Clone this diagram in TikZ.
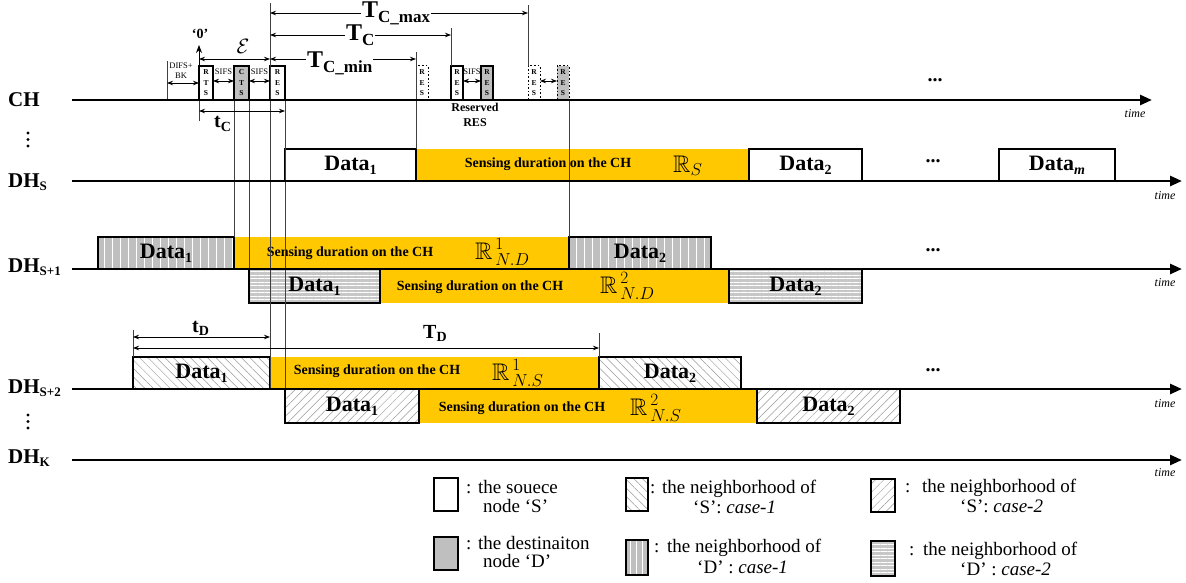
\documentclass[tikz,border=0pt]{standalone}
\usepackage{amssymb}
\usepackage{fontspec}
\setmainfont{Liberation Serif}
\usetikzlibrary{arrows.meta,patterns.meta}
\definecolor{sensey}{RGB}{255,200,0}
\newcommand\fsz[1]{\fontsize{#1}{#1}\selectfont}
\newcommand\lsb[2]{\raisebox{-0.18em}{\fontsize{#1}{#1}\selectfont #2}}
\begin{document}
\begin{tikzpicture}[x=1pt,y=-1pt,
  tline/.style={line width=2.6pt,-{Triangle[length=12pt,width=10pt]}},
  rowlab/.style={anchor=base west,inner sep=0,font=\fsz{21}\bfseries},
  timelab/.style={inner sep=0,font=\fsz{12}\itshape},
  dbox/.style={draw,line width=2.4pt,inner sep=0,outer sep=0,font=\fsz{22}\bfseries},
  ybox/.style={fill=sensey,inner sep=0,outer sep=0},
  stext/.style={inner sep=0,font=\fsz{14}\bfseries},
  rsym/.style={inner sep=0,anchor=base west,font=\fsz{24}},
  vline/.style={line width=0.6pt,black!75},
  dim/.style={line width=0.8pt,{Stealth[length=6pt,width=4.5pt]}-{Stealth[length=6pt,width=4.5pt]}},
  chbox/.style={draw,line width=1.6pt,inner sep=0,outer sep=0,minimum height=34,align=center,font=\fontsize{7.5}{10.5}\selectfont\bfseries,anchor=south west},
  dotbox/.style={chbox,dotted,line width=1pt},
  small/.style={inner sep=0,font=\fsz{8.5}},
  biglab/.style={inner sep=1pt,anchor=base west,fill=white,font=\fsz{24}\bfseries},
  midlab/.style={inner sep=0,anchor=base west,font=\fsz{20}\bfseries},
  legt/.style={inner sep=0,anchor=base west,font=\fsz{19}},
  dots/.style={inner sep=0,font=\fsz{20}\bfseries},
  patS1/.style={preaction={fill=white},pattern={Lines[angle=-45,distance=6pt,line width=0.5pt]},pattern color=black!40},
  patS2/.style={preaction={fill=white},pattern={Lines[angle=45,distance=6pt,line width=0.5pt]},pattern color=black!40},
  patD1/.style={preaction={fill=black!25},pattern={Lines[angle=90,distance=8pt,line width=0.9pt]},pattern color=white},
  patD2/.style={preaction={fill=black!22},pattern={Lines[angle=0,distance=3.5pt,line width=0.9pt]},pattern color=white},
]
\useasboundingbox (0,0) rectangle (1186,583);
\fill[white] (0,0) rectangle (1186,583);

% ---------- sensing (yellow) regions ----------
\node[ybox,minimum width=333,minimum height=32,anchor=south west] (ys) at (416,181) {};
\node[ybox,minimum width=335,minimum height=32,anchor=south west] (yd1) at (234,269) {};
\node[ybox,minimum width=349,minimum height=34,anchor=north west] (yd2) at (380,269) {};
\node[ybox,minimum width=329,minimum height=32,anchor=south west] (yn1) at (270,389) {};
\node[ybox,minimum width=338,minimum height=34,anchor=north west] (yn2) at (419,389) {};

% ---------- data boxes ----------
\node[dbox,minimum width=131,minimum height=32,anchor=south west] (sd1) at (285,181) {Data\lsb{14}{1}};
\node[dbox,minimum width=113,minimum height=32,anchor=south west] (sd2) at (749,181) {Data\lsb{14}{2}};
\node[dbox,minimum width=116,minimum height=32,anchor=south west] (sdm) at (999,181) {Data\lsb{14}{\itshape m}};

\node[dbox,patD1,minimum width=136,minimum height=32,anchor=south west] (ad1) at (98,269) {Data\lsb{14}{1}};
\node[dbox,patD1,minimum width=142,minimum height=32,anchor=south west] (ad2) at (569,269) {Data\lsb{14}{2}};
\node[dbox,patD2,minimum width=131,minimum height=34,anchor=north west] (bd1) at (249,269) {Data\lsb{14}{1}};
\node[dbox,patD2,minimum width=133,minimum height=34,anchor=north west] (bd2) at (729,269) {Data\lsb{14}{2}};

\node[dbox,patS1,minimum width=137,minimum height=32,anchor=south west] (cd1) at (133,389) {Data\lsb{14}{1}};
\node[dbox,patS1,minimum width=142,minimum height=32,anchor=south west] (cd2) at (599,389) {Data\lsb{14}{2}};
\node[dbox,patS2,minimum width=134,minimum height=34,anchor=north west] (ed1) at (285,389) {Data\lsb{14}{1}};
\node[dbox,patS2,minimum width=143,minimum height=34,anchor=north west] (ed2) at (757,389) {Data\lsb{14}{2}};

% ---------- sensing texts ----------
\node[stext] (t1) at (548,164) {Sensing duration on the CH};
\node[rsym] (r1) at (673,172) {$\mathbb{R}_{S}$};
\node[stext] (t2) at (350,253) {Sensing duration on the CH};
\node[rsym] (r2) at (475,259) {$\mathbb{R}^{\,1}_{\,N.D}$};
\node[stext] (t3) at (480,287) {Sensing duration on the CH};
\node[rsym] (r3) at (600,293) {$\mathbb{R}^{\,2}_{\,N.D}$};
\node[stext] (t4) at (377,371) {Sensing duration on the CH};
\node[rsym] (r4) at (492,380) {$\mathbb{R}^{\,1}_{\,N.S}$};
\node[stext] (t5) at (522,408) {Sensing duration on the CH};
\node[rsym] (r5) at (630,415) {$\mathbb{R}^{\,2}_{\,N.S}$};

% ---------- CH control frames ----------
\node[chbox,minimum width=14] (rts) at (199,100) {R\\T\\S};
\node[chbox,minimum width=15,fill=black!25] (cts) at (234,100) {C\\T\\S};
\node[chbox,minimum width=15] (res) at (270,100) {R\\E\\S};
\node[dotbox,minimum width=12] (res1) at (416,100) {R\\E\\S};
\node[chbox,minimum width=12] (res2) at (451,100) {R\\E\\S};
\node[chbox,minimum width=12,fill=black!25] (res3) at (481,100) {R\\E\\S};
\node[dotbox,minimum width=12] (res4) at (528,100) {R\\E\\S};
\node[dotbox,minimum width=12,fill=black!25] (res5) at (557,100) {R\\E\\S};

% ---------- thin guide lines ----------
\draw[vline] (167,61) -- (167,100);
\draw[vline] (199,100) -- (199,121);
\draw[vline] (234,100) -- (234,237);
\draw[vline] (249,100) -- (249,270);
\draw[vline] (270,3) -- (270,389);
\draw[vline] (285,100) -- (285,390);
\draw[vline] (416,52) -- (416,149);
\draw[vline] (451,28) -- (451,66);
\draw[vline] (528,5) -- (528,66);
\draw[vline] (569,100) -- (569,237);
\draw[vline] (133,330) -- (133,357);
\draw[vline] (599,333) -- (599,357);

% ---------- dimension arrows ----------
\draw[dim] (167,83) -- (199,83);
\draw[dim] (213,81) -- (234,81);
\draw[dim] (249,81) -- (270,81);
\draw[dim] (463,81) -- (481,81);
\draw[dim] (540,81) -- (557,81);
\draw[line width=0.8pt,-{Stealth[length=8pt,width=6pt]}] (199,66) -- (199,45);
\draw[dim] (199,59) -- (270,59);
\draw[dim] (270,59) -- (416,59);
\draw[dim] (270,35) -- (451,35);
\draw[dim] (270,13) -- (528,13);
\draw[dim] (199,111) -- (285,111);
\draw[dim] (133,337) -- (270,337);
\draw[dim] (133,348) -- (599,348);

% ---------- small labels ----------
\node[small] (difs) at (181,66) {DIFS+};
\node[small] (bk) at (181,76) {BK};
\node[small] (sifs1) at (223.5,72) {SIFS};
\node[small] (sifs2) at (259.5,72) {SIFS};
\node[small] (sifs3) at (472,72) {SIFS};
\node[inner sep=0,align=center,font=\fontsize{12}{14.5}\selectfont\bfseries] (rsv) at (475,115) {Reserved\\RES};
\node[inner sep=0,font=\fsz{14}\bfseries] (zero) at (200,34) {‘0’};
\node[inner sep=1pt,fill=white,font=\fsz{22}] (eps) at (243,46) {$\mathcal{E}$};

\node[biglab] (tcmax) at (361,18) {T\lsb{17}{C\_max}};
\node[biglab] (tc) at (345,41) {T\lsb{17}{C}};
\node[biglab] (tcmin) at (306,68) {T\lsb{17}{C\_min}};
\node[midlab] (tcs) at (214,128) {t\lsb{14}{C}};
\node[midlab] (tds) at (192,332) {t\lsb{14}{D}};
\node[midlab] (tdb) at (423,338) {T\lsb{14}{D}};

% ---------- timelines ----------
\draw[tline] (72,100) -- (1152,100);
\draw[tline] (72,181) -- (1182,181);
\draw[tline] (72,269) -- (1182,269);
\draw[tline] (72,389) -- (1182,389);
\draw[tline] (72,460) -- (1182,460);

\node[timelab] (tm0) at (1135,114) {time};
\node[timelab] (tm1) at (1165,196) {time};
\node[timelab] (tm2) at (1165,283) {time};
\node[timelab] (tm3) at (1165,404) {time};
\node[timelab] (tm4) at (1165,473) {time};

\node[dots] (el0) at (935,80) {...};
\node[dots] (el1) at (933,161) {...};
\node[dots] (el2) at (933,250) {...};
\node[dots] (el3) at (933,370) {...};

% ---------- row labels ----------
\node[rowlab] (lch) at (8,107) {CH};
\node[rowlab] (lds) at (8,187) {DH\lsb{13}{S}};
\node[rowlab] (lds1) at (8,272) {DH\lsb{13}{S+1}};
\node[rowlab] (lds2) at (8,393) {DH\lsb{13}{S+2}};
\node[rowlab] (ldk) at (8,463) {DH\lsb{13}{K}};
\fill (28,133) circle (1.7);
\fill (28,139.5) circle (1.7);
\fill (28,146) circle (1.7);
\fill (28,415) circle (1.7);
\fill (28,421.5) circle (1.7);
\fill (28,428) circle (1.7);

% ---------- legend ----------
\node[dbox,minimum width=24,minimum height=33,anchor=north west] (lg1) at (434,478) {};
\node[dbox,fill=black!25,minimum width=24,minimum height=33,anchor=north west] (lg2) at (434,537) {};
\node[dbox,patS1,minimum width=22,minimum height=33,anchor=north west] (lg3) at (626,478) {};
\node[dbox,patD1,pattern={Lines[angle=90,distance=6pt,line width=0.9pt]},minimum width=22,minimum height=35,anchor=north west] (lg4) at (626,540) {};
\node[dbox,patS2,minimum width=24,minimum height=33,anchor=north west] (lg5) at (871,479) {};
\node[dbox,patD2,minimum width=24,minimum height=35,anchor=north west] (lg6) at (871,541) {};

\node[legt] (c1) at (466,493) {:};
\node[legt] (l1a) at (478,493) {the souece};
\node[legt] (l1b) at (483,512) {node ‘S’};
\node[legt] (c2) at (466,549) {:};
\node[legt] (l2a) at (478,549) {the destinaiton};
\node[legt] (l2b) at (483,567) {node ‘D’};
\node[legt] (c3) at (650,493) {:};
\node[legt] (l3a) at (662,493) {the neighborhood of};
\node[legt] (l3b) at (693,513) {‘S’: \textit{case-1}};
\node[legt] (c4) at (654,552) {:};
\node[legt] (l4a) at (667,552) {the neighborhood of};
\node[legt] (l4b) at (697,573) {‘D’ : \textit{case-1}};
\node[legt] (c5) at (905,492) {:};
\node[legt] (l5a) at (922,492) {the neighborhood of};
\node[legt] (l5b) at (960,512) {‘S’: \textit{case-2}};
\node[legt] (c6) at (909,555) {:};
\node[legt] (l6a) at (923,555) {the neighborhood of};
\node[legt] (l6b) at (960,575) {‘D’ : \textit{case-2}};
\end{tikzpicture}
\end{document}
